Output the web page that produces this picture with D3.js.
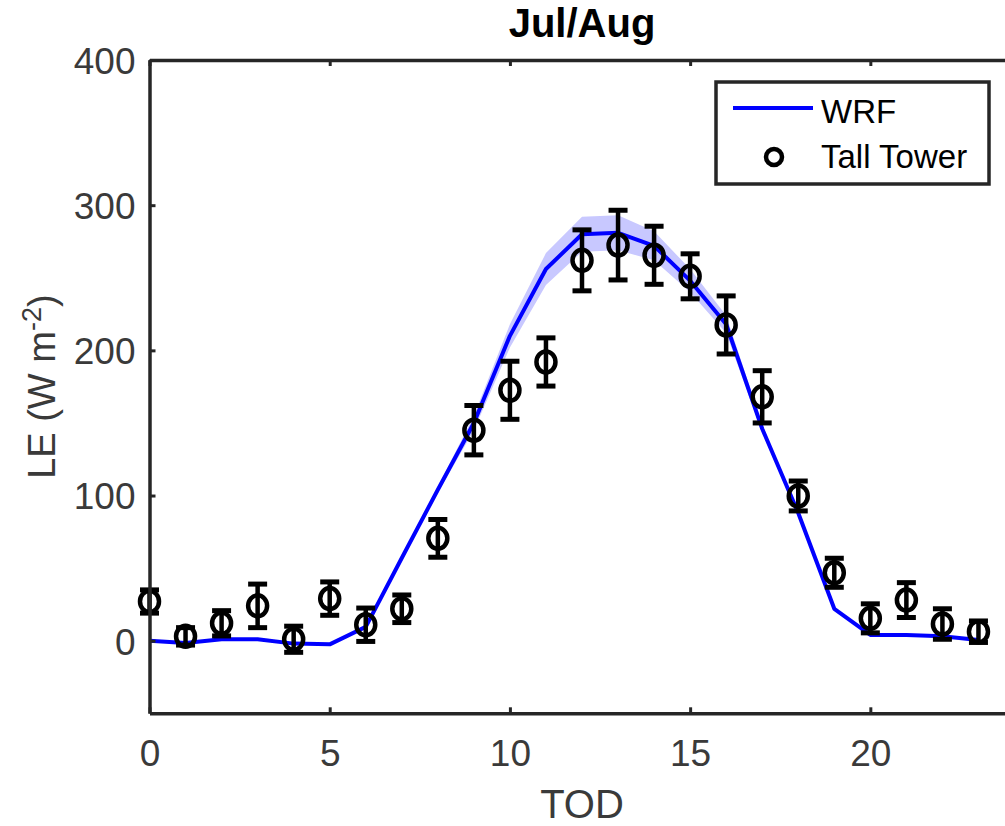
<!DOCTYPE html>
<meta charset="utf-8">
<script src="https://d3js.org/d3.v7.min.js"></script>
<style>
body { margin: 0; background: #fff; }
text { font-family: "Liberation Sans", Arial, sans-serif; }
</style>
<body>
<div id="chart"></div>
<script>

// hours of day
const hours = d3.range(0, 24);

// WRF model mean and spread (shaded band, +/-)
const wrf = [0, -1.5, 1, 1, -2, -2.5, 9.5, 57, 104, 150, 210, 256, 280, 281, 272, 248, 218, 146, 88, 22, 4, 4, 3, 0.5];
const wrfSpread = [0, 0, 0, 0, 0, 0, 0, 1, 2, 5, 8, 11, 12, 12, 10, 8, 6, 3, 1, 0, 0, 0, 0, 0];

// Tall tower observations and error bar half-length
const tower = [27, 3, 12, 24, 1, 29, 11, 22, 70.5, 145, 172.5, 192, 262, 272.5, 265.5, 251, 217.5, 168, 99.7, 46.8, 15.4, 28, 11.5, 6.2];
const towerErr = [8, 6, 8.7, 15, 9, 11.5, 11.5, 9.5, 13, 17, 20, 16.6, 21, 24, 20, 15.5, 20, 18, 10.3, 10, 10, 12, 10.5, 7.4];

const xTicks = [0, 5, 10, 15, 20];
const yTicks = [0, 100, 200, 300, 400];

const W = 1005, H = 826;
const margin = {top: 60, left: 149.5};
const plotW = 865, plotH = 653.3;

const svg = d3.select("#chart").append("svg")
    .attr("width", W)
    .attr("height", H);

const g = svg.append("g")
    .attr("transform", `translate(${margin.left},${margin.top})`);

const x = d3.scaleLinear().domain([0, 24]).range([0, plotW]);
const y = d3.scaleLinear().domain([-50, 400]).range([plotH, 0]);

// shaded spread
const area = d3.area()
    .x((d, i) => x(hours[i]))
    .y0((d, i) => y(d - wrfSpread[i]))
    .y1((d, i) => y(d + wrfSpread[i]));

g.append("path")
    .datum(wrf)
    .attr("d", area)
    .attr("fill", "#c8c8ff");

// WRF line
g.append("path")
    .datum(wrf)
    .attr("d", d3.line().x((d, i) => x(hours[i])).y(d => y(d)))
    .attr("fill", "none")
    .attr("stroke", "#0000ff")
    .attr("stroke-width", 4)
    .attr("stroke-linejoin", "round");

// error bars
const obs = g.append("g").attr("stroke", "#000").attr("fill", "none");
hours.forEach((h, i) => {
  const cx = x(h), lo = y(tower[i] - towerErr[i]), hi = y(tower[i] + towerErr[i]);
  obs.append("line").attr("x1", cx).attr("x2", cx).attr("y1", lo).attr("y2", hi).attr("stroke-width", 4.5);
  obs.append("line").attr("x1", cx - 9.5).attr("x2", cx + 9.5).attr("y1", lo).attr("y2", lo).attr("stroke-width", 5);
  obs.append("line").attr("x1", cx - 9.5).attr("x2", cx + 9.5).attr("y1", hi).attr("y2", hi).attr("stroke-width", 5);
  obs.append("ellipse").attr("cx", cx).attr("cy", y(tower[i])).attr("rx", 9.5).attr("ry", 10.5).attr("stroke-width", 4.5);
});

// axes
const axisColor = "#262626";
const xAxisB = g.append("g")
    .attr("transform", `translate(0,${plotH})`)
    .call(d3.axisBottom(x).tickValues(xTicks).tickSizeInner(-6).tickSizeOuter(0).tickPadding(26));
const xAxisT = g.append("g")
    .call(d3.axisTop(x).tickValues(xTicks).tickSizeInner(-6).tickSizeOuter(0).tickFormat(""));
const yAxisL = g.append("g")
    .call(d3.axisLeft(y).tickValues(yTicks).tickSizeInner(-6).tickSizeOuter(0).tickPadding(14));

[xAxisB, xAxisT, yAxisL].forEach(a => {
  a.select(".domain").attr("stroke", axisColor).attr("stroke-width", 3.5);
  a.selectAll(".tick line").attr("stroke", axisColor).attr("stroke-width", 3);
  a.selectAll(".tick text")
      .attr("fill", "#3a3a3a")
      .style("font-size", "37px")
      .style("font-family", "'Liberation Sans', Arial, sans-serif");
});
xAxisB.selectAll(".tick text").attr("dy", "0.71em");
yAxisL.selectAll(".tick text").attr("dy", "0.36em");

// title and labels
svg.append("text")
    .attr("x", margin.left + plotW / 2)
    .attr("y", 37)
    .attr("text-anchor", "middle")
    .style("font-size", "40px")
    .style("font-weight", "bold")
    .attr("fill", "#000")
    .text("Jul/Aug");

svg.append("text")
    .attr("x", margin.left + plotW / 2)
    .attr("y", 818)
    .attr("text-anchor", "middle")
    .style("font-size", "40px")
    .attr("fill", "#3a3a3a")
    .text("TOD");

const yl = svg.append("text")
    .attr("transform", `translate(55,${margin.top + plotH / 2}) rotate(-90)`)
    .attr("text-anchor", "middle")
    .style("font-size", "38px")
    .attr("fill", "#3a3a3a");
yl.append("tspan").text("LE (W m");
yl.append("tspan").attr("dy", -14).style("font-size", "27px").text("-2");
yl.append("tspan").attr("dy", 14).text(")");

// legend
const leg = svg.append("g");
leg.append("rect")
    .attr("x", 716).attr("y", 82).attr("width", 273).attr("height", 102)
    .attr("fill", "#fff").attr("stroke", axisColor).attr("stroke-width", 3.5);
leg.append("line")
    .attr("x1", 733).attr("x2", 813).attr("y1", 108).attr("y2", 108)
    .attr("stroke", "#0000ff").attr("stroke-width", 4);
leg.append("circle")
    .attr("cx", 774).attr("cy", 157).attr("r", 8)
    .attr("fill", "none").attr("stroke", "#000").attr("stroke-width", 4.5);
leg.append("text").attr("x", 821).attr("y", 123).style("font-size", "33px").attr("fill", "#000").text("WRF");
leg.append("text").attr("x", 821).attr("y", 168).style("font-size", "33px").attr("fill", "#000").text("Tall Tower");

</script>
</body>
